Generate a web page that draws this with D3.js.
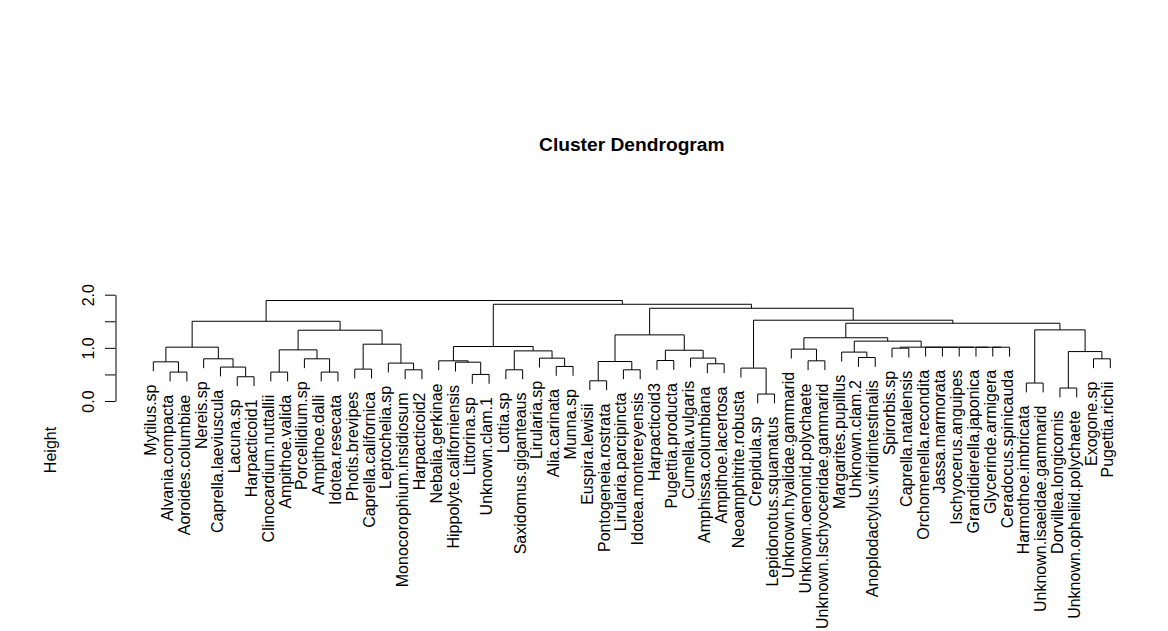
<!DOCTYPE html>
<html><head><meta charset="utf-8">
<script src="https://cdn.jsdelivr.net/npm/d3@7"></script>
<style>
body{margin:0;background:#fff}
svg{display:block}
text{font-family:"Liberation Sans",Arial,Helvetica,sans-serif;fill:#000}
</style>
</head><body>
<svg id="chart" width="1168" height="631"></svg>
<script>
// Leaf labels in dendrogram order
const labels = [
  "Mytilus.sp","Alvania.compacta","Aoroides.columbiae","Nereis.sp","Caprella.laeviuscula",
  "Lacuna.sp","Harpacticoid1","Clinocardium.nuttallii","Ampithoe.valida","Porcellidium.sp",
  "Ampithoe.dalli","Idotea.resecata","Photis.brevipes","Caprella.californica","Leptochelia.sp",
  "Monocorophium.insidiosum","Harpacticoid2","Nebalia.gerkinae","Hippolyte.californiensis","Littorina.sp",
  "Unknown.clam.1","Lottia.sp","Saxidomus.giganteaus","Lirularia.sp","Alia.carinata",
  "Munna.sp","Euspira.lewisii","Pontogeneia.rostrata","Lirularia.parcipincta","Idotea.montereyensis",
  "Harpacticoid3","Pugettia.producta","Cumella.vulgaris","Amphissa.columbiana","Ampithoe.lacertosa",
  "Neoamphitrite.robusta","Crepidula.sp","Lepidonotus.squamatus","Unknown.hyalidae.gammarid","Unknown.oenonid.polychaete",
  "Unknown.Ischyoceridae.gammarid","Margarites.pupillus","Unknown.clam.2","Anoplodactylus.viridintestinalis","Spirorbis.sp",
  "Caprella.natalensis","Orchomenella.recondita","Jassa.marmorata","Ischyocerus.anguipes","Grandidierella.japonica",
  "Glycerinde.armigera","Ceradocus.spinicauda","Harmothoe.imbricata","Unknown.isaeidae.gammarid","Dorvillea.longicornis",
  "Unknown.opheliid.polychaete","Exogone.sp","Pugettia.richii"
];

// hclust-style merge table: negative = leaf number (1-based), positive = earlier merge row (1-based)
const merges = [
  [-37,-38],[-55,-56],[-53,-54],[-27,-28],[-6,-7],
  [-20,-21],[-2,-3],[-8,-9],[-11,-12],[-16,-17],
  [-22,-23],[-29,-30],[-13,-14],[-36,1],[-5,5],
  [-25,-26],[-34,-35],[-15,10],[-1,7],[-19,6],
  [4,12],[-18,20],[-40,-41],[-31,-32],[-4,15],
  [-10,9],[-57,-58],[-24,16],[-33,17],[-43,-44],
  [11,28],[2,27],[-42,30],[24,29],[8,26],
  [-39,23],[-45,-46],[-51,-52],[-50,38],[-49,39],
  [-48,40],[-47,41],[37,42],[19,25],[22,31],
  [13,18],[33,43],[36,47],[21,34],[35,46],
  [3,32],[48,51],[44,50],[14,52],[49,54],
  [45,55],[53,56]
];

// merge heights (same row order as merges)
const heights = [
  0.131,0.244,0.338,0.380,0.456,
  0.500,0.544,0.544,0.544,0.587,
  0.587,0.587,0.600,0.619,0.638,
  0.650,0.700,0.713,0.737,0.730,
  0.743,0.756,0.756,0.762,0.794,
  0.794,0.794,0.806,0.807,0.818,
  0.943,0.930,0.920,0.955,0.962,
  0.976,0.994,1.012,1.012,1.012,
  1.012,1.012,1.013,1.013,1.025,
  1.069,1.126,1.190,1.244,1.332,
  1.338,1.463,1.500,1.520,1.745,
  1.820,1.890
];

const yTicks = [0, 0.5, 1, 1.5, 2];
const yTickLabels = ["0.0", "", "1.0", "", "2.0"];
const chartTitle = "Cluster Dendrogram";
const yAxisTitle = "Height";
const hangFraction = 0.1;

// ---------- layout ----------
const fontSize = 16;
const svg = d3.select("#chart");

const x = d3.scaleLinear().domain([0, labels.length - 1]).range([153.3, 1110.3]);
const y = d3.scaleLinear().domain([0, 2]).range([401, 294.7]);

const [hMin, hMax] = d3.extent(heights);
const hang = hangFraction * (hMax - hMin);

function build(ref) {
  if (ref < 0) return { leaf: -ref - 1, name: labels[-ref - 1] };
  const m = merges[ref - 1];
  return { h: heights[ref - 1], children: [build(m[0]), build(m[1])] };
}
const root = d3.hierarchy(build(merges.length));
root.leaves().forEach((d, i) => { d.px = x(i); });
root.eachAfter(d => {
  if (d.children) d.px = (d.children[0].px + d.children[1].px) / 2;
});

const childY = (c, parentH) => c.children ? y(c.data.h) : y(parentH - hang);

const g = svg.append("g");
root.descendants().filter(d => d.children).forEach(d => {
  const [l, r] = d.children;
  const yy = y(d.data.h);
  const p = d3.path();
  p.moveTo(l.px, childY(l, d.data.h));
  p.lineTo(l.px, yy);
  p.lineTo(r.px, yy);
  p.lineTo(r.px, childY(r, d.data.h));
  g.append("path").attr("d", p.toString())
    .attr("fill", "none").attr("stroke", "#000").attr("stroke-width", 1);
});

// leaf labels
const mWidth = 0.833 * fontSize;
g.selectAll("text.leaf").data(root.leaves()).join("text")
  .attr("class", "leaf")
  .attr("transform", d => `translate(${d.px + 3},${y(d.parent.data.h - hang) + mWidth}) rotate(-90)`)
  .attr("text-anchor", "end")
  .style("font-size", fontSize + "px")
  .text(d => d.data.name);

// y axis
const axis = d3.axisLeft(y).tickValues(yTicks).tickSize(10.5).tickSizeOuter(0)
  .tickFormat((d, i) => yTickLabels[i]);
const ag = svg.append("g").attr("transform", "translate(115.5,0)").call(axis);
ag.select(".domain").attr("stroke", "#000");
ag.selectAll(".tick line").attr("stroke", "#000");
ag.selectAll(".tick text")
  .attr("x", null).attr("dy", null)
  .attr("text-anchor", "middle")
  .attr("transform", "translate(-22,0) rotate(-90)")
  .style("font-size", fontSize + "px")
  .style("font-family", '"Liberation Sans",Arial,Helvetica,sans-serif')
  .attr("fill", "#000");

// titles
svg.append("text")
  .attr("x", 631.8).attr("y", 151)
  .attr("text-anchor", "middle")
  .style("font-size", (fontSize * 1.2) + "px")
  .style("font-weight", "bold")
  .text(chartTitle);

svg.append("text")
  .attr("transform", "translate(56,450) rotate(-90)")
  .attr("text-anchor", "middle")
  .style("font-size", fontSize + "px")
  .text(yAxisTitle);
</script>
</body></html>
